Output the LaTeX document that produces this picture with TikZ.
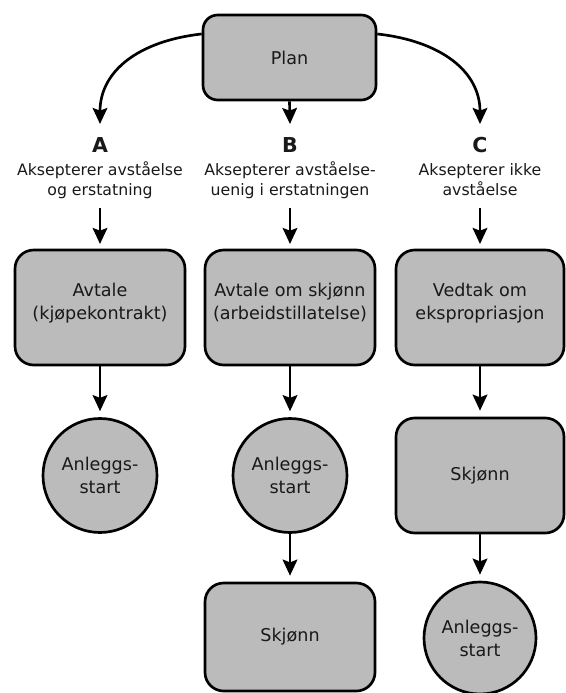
\documentclass[tikz,border=0pt]{standalone}
\usepackage{fontspec}
\setmainfont{DejaVu Sans}
\usetikzlibrary{arrows.meta}
\definecolor{boxfill}{RGB}{187,187,187}
\definecolor{ink}{RGB}{25,25,25}
\begin{document}
\begin{tikzpicture}[x=0.75pt,y=-0.75pt,
  every node/.style={font=\fontsize{13.2}{17.25}\selectfont, text=ink},
  box/.style={draw=black, line width=2pt, fill=boxfill, rounded corners=14pt,
    minimum width=127.5pt, minimum height=86.25pt, align=center, inner sep=2pt},
  liftedtext/.style={text depth=10pt},
  disc/.style={draw=black, line width=2pt, fill=boxfill, circle,
    minimum size=85.5pt, inner sep=0pt, align=center},
  head/.style={font=\bfseries\fontsize{15.4}{18}\selectfont},
  lbl/.style={font=\fontsize{11.8}{15}\selectfont, align=center},
  arr/.style={line width=2pt, -{Stealth[length=12pt,width=11pt,inset=2pt]}},
]
\useasboundingbox (0,0) rectangle (566,693);

% top node
\node[box, minimum width=129.75pt, minimum height=63.75pt, rounded corners=11pt] (plan) at (289.5,57.5) {Plan};

% the three alternatives
\node[head] (hA) at (100,145) {A};
\node[head] (hB) at (290,145) {B};
\node[head] (hC) at (480,145) {C};
\node[lbl] (tA) at (100,180) {Aksepterer avståelse\\og erstatning};
\node[lbl] (tB) at (290,180) {Aksepterer avståelse-\\uenig i erstatningen};
\node[lbl] (tC) at (480,180) {Aksepterer ikke\\avståelse};

% arrow ends around the labels
\coordinate (inA) at (100,124);
\coordinate (inB) at (290,124);
\coordinate (inC) at (480,124);
\coordinate (outA) at (100,208);
\coordinate (outB) at (290,208);
\coordinate (outC) at (480,208);

% first row
\node[box, liftedtext] (avA) at (100,307.5) {Avtale\\(kjøpekontrakt)};
\node[box, liftedtext] (avB) at (290,307.5) {Avtale om skjønn\\(arbeidstillatelse)};
\node[box, liftedtext, minimum width=126pt] (vedC) at (480,307.5) {Vedtak om\\ekspropriasjon};

% second row
\node[disc] (stA) at (100,475.5) {Anleggs-\\start};
\node[disc] (stB) at (290,475.5) {Anleggs-\\start};
\node[box, minimum width=126pt] (skC) at (480,475.5) {Skjønn};

% third row
\node[box, minimum height=81pt] (skB) at (290,637) {Skjønn};
\node[disc, minimum size=84pt] (stC) at (480,638) {Anleggs-\\start};

% connectors
\draw[arr] (plan.165) .. controls +(-63,7) and +(0,-53) .. (inA);
\draw[arr] (plan.south) -- (inB);
\draw[arr] (plan.15) .. controls +(63,7) and +(0,-53) .. (inC);

\draw[arr, shorten >=3.5pt] (outA) -- (avA);
\draw[arr, shorten >=3.5pt] (outB) -- (avB);
\draw[arr, shorten >=3.5pt] (outC) -- (vedC);

\draw[arr, shorten >=4.5pt] (avA) -- (stA);
\draw[arr, shorten >=4.5pt] (avB) -- (stB);
\draw[arr, shorten >=4.5pt] (vedC) -- (skC);

\draw[arr, shorten >=4.5pt] (stB) -- (skB);
\draw[arr, shorten >=4.5pt] (skC) -- (stC);
\end{tikzpicture}
\end{document}
